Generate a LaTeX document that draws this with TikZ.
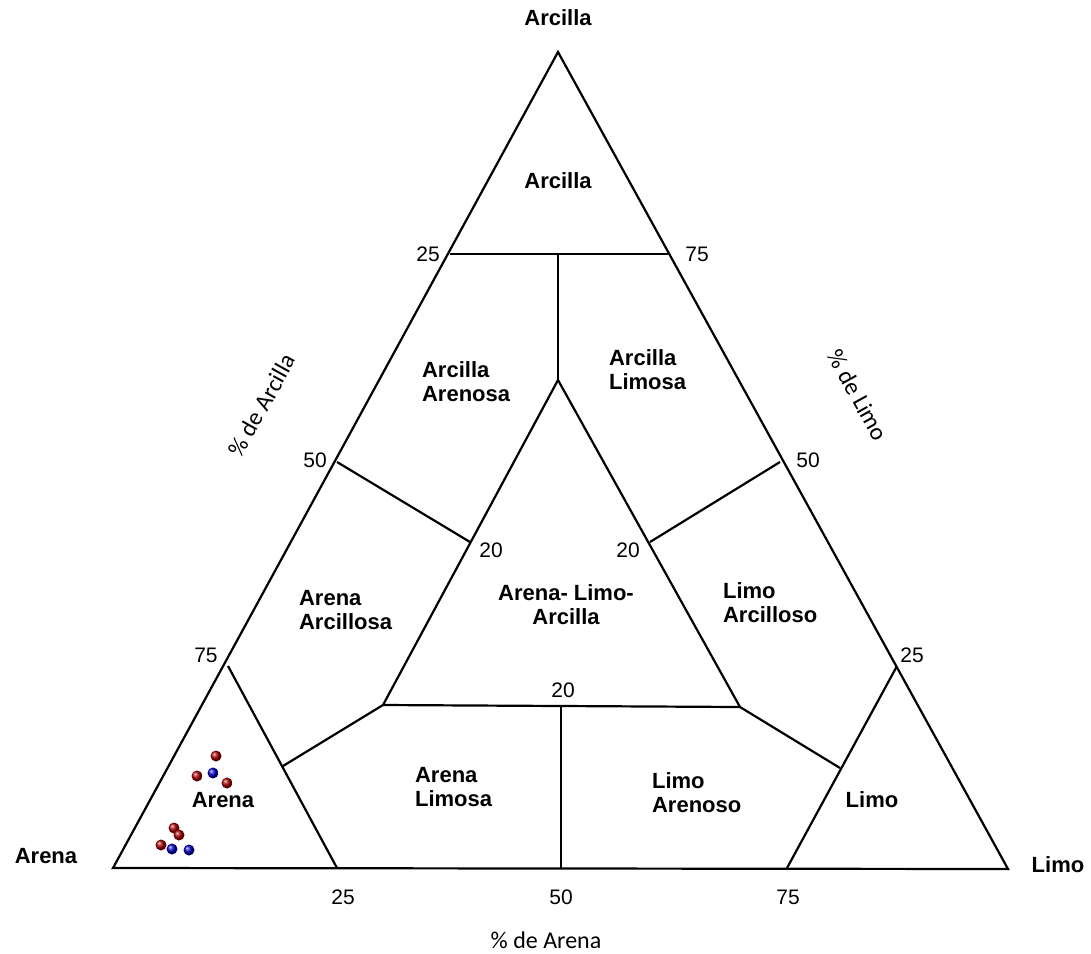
\documentclass[tikz,border=0pt]{standalone}
\usepackage{fontspec}
\setmainfont{Liberation Sans}
\newfontfamily\calib{Carlito}
\begin{document}
\begin{tikzpicture}[x=1pt, y=-1pt, line width=2.2pt,
    lbl/.style={font=\bfseries\fontsize{22}{24}\selectfont, align=center},
    lbw/.style={lbl, align=left, anchor=west, inner xsep=0pt},
    num/.style={font=\fontsize{21}{23}\selectfont},
    axis/.style={font=\calib\fontsize{24}{26}\selectfont},
    rdot/.style={circle, inner sep=0pt, minimum size=11pt, ball color=red!65!black},
    bdot/.style={circle, inner sep=0pt, minimum size=11pt, ball color=blue!75!black}]
	\useasboundingbox (0,0) rectangle (1091,953);
	% vertices of the triangle
	\coordinate (ar) at (113,868);
	\coordinate (li) at (1008,869);
	\coordinate (ac) at (558,52);
	% points on the sides
	\coordinate (l25) at (450,254);
	\coordinate (r75) at (668,254);
	\coordinate (l50) at (337,462);
	\coordinate (r50) at (780,462);
	\coordinate (l75) at (228,666);
	\coordinate (r25) at (897,666);
	\coordinate (b25) at (337,868);
	\coordinate (b50) at (561,868);
	\coordinate (b75) at (787,868);
	\coordinate (pl) at (283,766);
	\coordinate (pr) at (840,768);
	% inner triangle
	\coordinate (ia) at (558,254);
	\coordinate (it) at (558,380);
	\coordinate (il) at (383,705);
	\coordinate (ir) at (740,707);
	\coordinate (ib) at (561,706);
	\coordinate (i20l) at (470,542);
	\coordinate (i20r) at (650,542);
	\draw[line join=miter] (ar) -- (li) -- (ac) -- cycle;
	\draw (l25) -- (r75);
	\draw (ia) -- (it);
	\draw (it) -- (il) -- (ir) -- cycle;
	\draw (l50) -- (i20l);
	\draw (r50) -- (i20r);
	\draw (pl) -- (il);
	\draw (ir) -- (pr);
	\draw (ib) -- (b50);
	\draw (l75) -- (b25);
	\draw (r25) -- (b75);
	% labels of the areas
	\node[lbl] (tac) at (558,18) {Arcilla};
	\node[lbl] (tar) at (46,856) {Arena};
	\node[lbl] (tli) at (1058,865) {Limo};
	\node[lbl] (zac) at (558,181) {Arcilla};
	\node[lbw] (zaa) at (421,382) {Arcilla\\Arenosa};
	\node[lbw] (zal) at (608,370) {Arcilla\\Limosa};
	\node[lbl] (zalc) at (566,605) {Arena-\ Limo-\\Arcilla};
	\node[lbw] (zarc) at (298,610) {Arena\\Arcillosa};
	\node[lbw] (zlac) at (722,603) {Limo\\Arcilloso};
	\node[lbl] (zare) at (223,800) {Arena};
	\node[lbw] (zarl) at (414,787) {Arena\\Limosa};
	\node[lbw] (zlar) at (651,793) {Limo\\Arenoso};
	\node[lbl] (zli) at (872,800) {Limo};
	% numbers
	\node[num] (n1) at (428,254) {25};
	\node[num] (n2) at (697,254) {75};
	\node[num] (n3) at (315,460) {50};
	\node[num] (n4) at (808,460) {50};
	\node[num] (n5) at (491,550) {20};
	\node[num] (n6) at (628,550) {20};
	\node[num] (n7) at (563,690) {20};
	\node[num] (n8) at (206,655) {75};
	\node[num] (n9) at (912,655) {25};
	\node[num] (n10) at (343,897) {25};
	\node[num] (n11) at (561,897) {50};
	\node[num] (n12) at (788,897) {75};
	% axes
	\node[axis, rotate=61] (xac) at (262,405) {\% de Arcilla};
	\node[axis, rotate=-61] (xli) at (858,395) {\% de Limo};
	\node[axis] (xar) at (546,940) {\% de Arena};
	% samples
	\node[rdot] (s1) at (216,756) {};
	\node[rdot] (s2) at (197,776) {};
	\node[bdot] (s3) at (213,773) {};
	\node[rdot] (s4) at (227,783) {};
	\node[rdot] (s5) at (174,828) {};
	\node[rdot] (s6) at (179,835) {};
	\node[rdot] (s7) at (161,845) {};
	\node[bdot] (s8) at (172,849) {};
	\node[bdot] (s9) at (189,850) {};
\end{tikzpicture}
\end{document}
